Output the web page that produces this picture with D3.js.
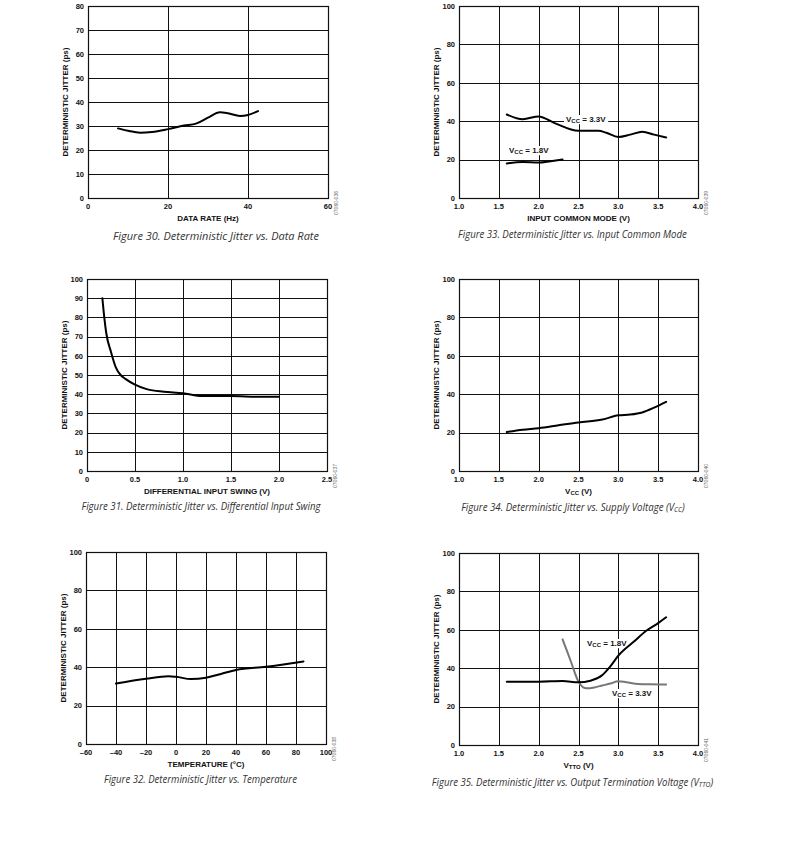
<!DOCTYPE html>
<html>
<head>
<meta charset="utf-8">
<script src="https://cdn.jsdelivr.net/npm/d3@7"></script>
<style>
  html, body { margin: 0; padding: 0; background: #fff; }
  svg { display: block; }
  .tick-label, .axis-title, .series-label { font-family: "Liberation Sans", Arial, sans-serif; font-weight: bold; fill: #111; }
  .caption { font-family: "Open Sans", "Noto Sans", sans-serif; font-style: italic; fill: #333; }
  .code { font-family: "Liberation Sans", Arial, sans-serif; fill: #666; }
</style>
</head>
<body>
<svg id="chart" width="800" height="844"></svg>
<script>
// ---------------- DATA ----------------
// Figure 30: Deterministic Jitter vs. Data Rate
const fig30X = [7.5, 10, 13, 16, 20, 24, 27, 30, 33, 35, 38, 40, 42.5];
const fig30Y = [29, 28, 27.2, 27.5, 28.7, 30.2, 31, 33.5, 35.7, 35.3, 34.2, 34.6, 36.2];
const fig30XTicks = [0, 20, 40, 60];
const fig30YTicks = [0, 10, 20, 30, 40, 50, 60, 70, 80];

// Figure 33: Deterministic Jitter vs. Input Common Mode
const fig33X33 = [1.6, 1.8, 2.0, 2.2, 2.5, 2.75, 2.85, 3.0, 3.15, 3.3, 3.45, 3.6];
const fig33Y33 = [43.5, 41, 42.5, 39, 35, 35, 34, 31.8, 33, 34.5, 33, 31.5];
const fig33X18 = [1.6, 1.8, 2.0, 2.15, 2.3];
const fig33Y18 = [18, 18.8, 18.5, 19.2, 20];
const fig33XTicks = [1.0, 1.5, 2.0, 2.5, 3.0, 3.5, 4.0];
const fig33YTicks = [0, 20, 40, 60, 80, 100];

// Figure 31: Deterministic Jitter vs. Differential Input Swing
const fig31X = [0.16, 0.18, 0.2, 0.25, 0.3, 0.35, 0.4, 0.5, 0.63, 0.8, 1.0, 1.2, 1.5, 1.8, 2.0];
const fig31Y = [90, 80, 72, 62, 54, 50, 48, 45, 42.5, 41.3, 40.5, 39, 39, 38.7, 38.7];
const fig31XTicks = [0, 0.5, 1.0, 1.5, 2.0, 2.5];
const fig31YTicks = [0, 10, 20, 30, 40, 50, 60, 70, 80, 90, 100];

// Figure 34: Deterministic Jitter vs. Supply Voltage
const fig34X = [1.6, 1.8, 2.0, 2.25, 2.5, 2.8, 3.0, 3.15, 3.3, 3.45, 3.6];
const fig34Y = [20.3, 21.5, 22.3, 23.8, 25.3, 26.8, 29, 29.4, 30.5, 33, 36];
const fig34XTicks = [1.0, 1.5, 2.0, 2.5, 3.0, 3.5, 4.0];
const fig34YTicks = [0, 20, 40, 60, 80, 100];

// Figure 32: Deterministic Jitter vs. Temperature
const fig32X = [-40, -20, -5, 0, 10, 20, 30, 40, 60, 85];
const fig32Y = [31.5, 34, 35.3, 35, 33.8, 34.5, 36.5, 38.5, 40.2, 43];
const fig32XTicks = [-60, -40, -20, 0, 20, 40, 60, 80, 100];
const fig32YTicks = [0, 20, 40, 60, 80, 100];

// Figure 35: Deterministic Jitter vs. Output Termination Voltage
const fig35X18 = [1.6, 2.0, 2.3, 2.5, 2.65, 2.8, 2.9, 3.0, 3.2, 3.35, 3.5, 3.6];
const fig35Y18 = [33, 33, 33.3, 32.7, 33.5, 36.5, 41, 46.5, 54, 59.5, 63.5, 66.5];
const fig35X33 = [2.3, 2.4, 2.5, 2.6, 2.7, 2.8, 2.9, 3.0, 3.1, 3.25, 3.4, 3.6];
const fig35Y33 = [55, 44, 33, 29.5, 30, 31, 32, 33.2, 32.7, 31.8, 31.6, 31.5];
const fig35XTicks = [1.0, 1.5, 2.0, 2.5, 3.0, 3.5, 4.0];
const fig35YTicks = [0, 20, 40, 60, 80, 100];

const yTitle = "DETERMINISTIC JITTER (ps)";

// ---------------- DRAWING ----------------
const svg = d3.select("#chart");
const zip = (xs, ys) => xs.map((x, i) => [x, ys[i]]);

function drawPanel(p) {
  const x = d3.scaleLinear().domain([p.xTicks[0], p.xTicks[p.xTicks.length - 1]]).range([p.left, p.right]);
  const y = d3.scaleLinear().domain([p.yTicks[0], p.yTicks[p.yTicks.length - 1]]).range([p.bottom, p.top]);
  const g = svg.append("g");

  // grid
  g.append("g").selectAll("line").data(p.yTicks).join("line")
    .attr("x1", p.left).attr("x2", p.right)
    .attr("y1", d => Math.round(y(d)) + 0.5).attr("y2", d => Math.round(y(d)) + 0.5)
    .attr("stroke", "#111").attr("stroke-width", 1);
  g.append("g").selectAll("line").data(p.xTicks).join("line")
    .attr("y1", p.top).attr("y2", p.bottom)
    .attr("x1", d => Math.round(x(d)) + 0.5).attr("x2", d => Math.round(x(d)) + 0.5)
    .attr("stroke", "#111").attr("stroke-width", 1);

  // frame
  g.append("rect")
    .attr("x", Math.round(p.left) + 0.5).attr("y", Math.round(p.top) + 0.5)
    .attr("width", Math.round(p.right) - Math.round(p.left))
    .attr("height", Math.round(p.bottom) - Math.round(p.top))
    .attr("fill", "none").attr("stroke", "#111").attr("stroke-width", 1.2);

  // tick labels
  g.append("g").selectAll("text").data(p.xTicks).join("text")
    .attr("class", "tick-label")
    .attr("x", d => x(d)).attr("y", p.bottom + 11)
    .attr("text-anchor", "middle").attr("font-size", 7.5)
    .text(d => p.xFmt(d));
  g.append("g").selectAll("text").data(p.yTicks).join("text")
    .attr("class", "tick-label")
    .attr("x", p.left - 4).attr("y", d => y(d) + 2.7)
    .attr("text-anchor", "end").attr("font-size", 7.5)
    .text(d => d);

  // axis titles
  const xt = g.append("text").attr("class", "axis-title")
    .attr("x", (p.left + p.right) / 2).attr("y", p.bottom + 23)
    .attr("text-anchor", "middle").attr("font-size", 8);
  p.xTitle.forEach(part => {
    const t = xt.append("tspan").text(part.t);
    if (part.sub) t.attr("font-size", 6).attr("baseline-shift", "-20%");
  });
  g.append("text").attr("class", "axis-title")
    .attr("transform", `translate(${p.yTitleX},${(p.top + p.bottom) / 2}) rotate(-90)`)
    .attr("text-anchor", "middle").attr("font-size", 8)
    .text(yTitle);

  // code label
  g.append("text").attr("class", "code")
    .attr("transform", `translate(${p.right + 10},${p.bottom + 5}) rotate(-90)`)
    .attr("text-anchor", "middle").attr("font-size", 5)
    .text(p.code);

  // caption: full 10px height, horizontally condensed to the reference width
  const cap = g.append("text").attr("class", "caption")
    .attr("x", 0).attr("y", 0)
    .attr("text-anchor", "middle").attr("font-size", 10);
  p.caption.forEach(part => {
    const t = cap.append("tspan").text(part.t);
    if (part.sub) t.attr("font-size", 7).attr("baseline-shift", "-15%");
  });
  const natural = cap.node().getBBox().width;
  cap.attr("transform", `translate(${p.capX},${p.capY}) scale(${p.capLen / natural},1)`);

  // series labels (white box hides grid, drawn under the curves)
  (p.labels || []).forEach(l => {
    const lg = g.append("g");
    const bg = lg.append("rect").attr("fill", "#fff");
    const t = lg.append("text").attr("class", "series-label")
      .attr("x", l.x).attr("y", l.y).attr("font-size", 8);
    t.append("tspan").text("V");
    t.append("tspan").text("CC").attr("font-size", 6).attr("baseline-shift", "-20%");
    t.append("tspan").text(" = " + l.v);
    const bb = t.node().getBBox();
    bg.attr("x", bb.x - 2).attr("y", bb.y).attr("width", bb.width + 4).attr("height", bb.height);
  });

  // lines
  const line = d3.line().x(d => x(d[0])).y(d => y(d[1])).curve(d3.curveMonotoneX);
  p.series.forEach(s => {
    g.append("path").datum(s.data)
      .attr("d", line).attr("fill", "none")
      .attr("stroke", s.color).attr("stroke-width", 2)
      .attr("stroke-linejoin", "round").attr("stroke-linecap", "round");
  });
}

const fmt1 = d3.format(".1f");
const fmt31 = d => (d === 0 ? "0" : fmt1(d));
const fmtInt = d => (d < 0 ? "\u2013" + Math.abs(d) : String(d));

const panels = [
  { left: 88, right: 328, top: 6, bottom: 198, xTicks: fig30XTicks, yTicks: fig30YTicks, xFmt: d => d,
    xTitle: [{ t: "DATA RATE (Hz)" }], yTitleX: 68, code: "07060-036",
    caption: [{ t: "Figure 30. Deterministic Jitter vs. Data Rate" }], capX: 216, capY: 240, capLen: 206,
    series: [{ data: zip(fig30X, fig30Y), color: "#000" }] },
  { left: 459, right: 698, top: 6, bottom: 198, xTicks: fig33XTicks, yTicks: fig33YTicks, xFmt: fmt1,
    xTitle: [{ t: "INPUT COMMON MODE (V)" }], yTitleX: 439, code: "07060-039",
    caption: [{ t: "Figure 33. Deterministic Jitter vs. Input Common Mode" }], capX: 572.5, capY: 238, capLen: 229,
    series: [{ data: zip(fig33X33, fig33Y33), color: "#000" }, { data: zip(fig33X18, fig33Y18), color: "#000" }],
    labels: [{ x: 566, y: 122, v: "3.3V" }, { x: 509, y: 153, v: "1.8V" }] },
  { left: 87, right: 327, top: 279, bottom: 471, xTicks: fig31XTicks, yTicks: fig31YTicks, xFmt: fmt31,
    xTitle: [{ t: "DIFFERENTIAL INPUT SWING (V)" }], yTitleX: 67, code: "07060-037",
    caption: [{ t: "Figure 31. Deterministic Jitter vs. Differential Input Swing" }], capX: 201, capY: 510, capLen: 240,
    series: [{ data: zip(fig31X, fig31Y), color: "#000" }] },
  { left: 459, right: 698, top: 279, bottom: 471, xTicks: fig34XTicks, yTicks: fig34YTicks, xFmt: fmt1,
    xTitle: [{ t: "V" }, { t: "CC", sub: true }, { t: " (V)" }], yTitleX: 439, code: "07060-040",
    caption: [{ t: "Figure 34. Deterministic Jitter vs. Supply Voltage (V" }, { t: "CC", sub: true }, { t: ")" }],
    capX: 573, capY: 511, capLen: 224,
    series: [{ data: zip(fig34X, fig34Y), color: "#000" }] },
  { left: 86, right: 326, top: 552, bottom: 744, xTicks: fig32XTicks, yTicks: fig32YTicks, xFmt: fmtInt,
    xTitle: [{ t: "TEMPERATURE (\u00B0C)" }], yTitleX: 66, code: "07060-038",
    caption: [{ t: "Figure 32. Deterministic Jitter vs. Temperature" }], capX: 200.5, capY: 783, capLen: 193,
    series: [{ data: zip(fig32X, fig32Y), color: "#000" }] },
  { left: 459, right: 698, top: 553, bottom: 745, xTicks: fig35XTicks, yTicks: fig35YTicks, xFmt: fmt1,
    xTitle: [{ t: "V" }, { t: "TTO", sub: true }, { t: " (V)" }], yTitleX: 439, code: "07060-041",
    caption: [{ t: "Figure 35. Deterministic Jitter vs. Output Termination Voltage (V" }, { t: "TTO", sub: true }, { t: ")" }],
    capX: 572.5, capY: 786, capLen: 282,
    series: [{ data: zip(fig35X33, fig35Y33), color: "#777" }, { data: zip(fig35X18, fig35Y18), color: "#000" }],
    labels: [{ x: 587, y: 646, v: "1.8V" }, { x: 612, y: 696, v: "3.3V" }] }
];

panels.forEach(drawPanel);
</script>
</body>
</html>
